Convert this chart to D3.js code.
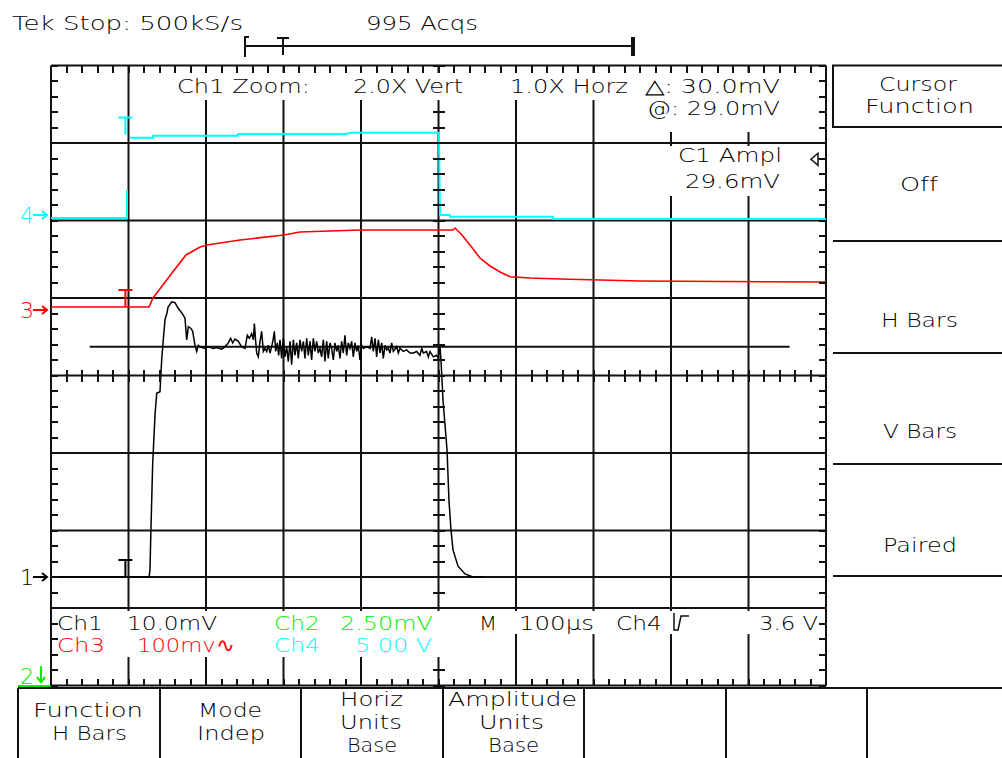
<!DOCTYPE html>
<html lang="en">
<head>
<meta charset="UTF-8">
<title>Tek scope capture</title>
<script src="https://cdnjs.cloudflare.com/ajax/libs/d3/7.8.5/d3.min.js"></script>
<style>
  body { margin: 0; background: #fff; }
  svg { display: block; font-family: "DejaVu Sans", sans-serif; }
  text { font-size: 20px; font-weight: 300; font-variant-ligatures: none; }
</style>
</head>
<body>
<div id="chart"></div>
<script>
// time base: 100 us/div over 10 divisions, 8 vertical divisions
const timeRange = [0, 1000];
const divRange = [-4, 4];

// channel settings: units per division and ground marker position (divisions)
const channelNames = ["1", "2", "3", "4"];
const channelScale = [10, 2.5, 100, 5];        // mV, mV, mV, V
const channelGround = [-2.6, -3.88, 0.845, 2.07];
const channelColor = ["#000000", "#00ee00", "#ff0000", "#00ffff"];

// Ch1 samples [time us, mV]
const ch1Samples = [
  [0, 0], [126.5, 0], [127.7, 0.9], [129.0, 6.3], [131.2, 14.6], [134.2, 20.9],
  [136.4, 23.7], [140.6, 23.9], [142.8, 28.0], [144.9, 30.6], [147.1, 33.2],
  [149.7, 34.1], [151.0, 34.8], [155.7, 35.5], [160.0, 35.4], [163.9, 34.7],
  [168.6, 34.1], [172.9, 33.4], [175.1, 30.6], [177.2, 32.3], [180.3, 32.1],
  [182.8, 31.7], [185.8, 29.9], [188.0, 29.1], [190.1, 29.9], [192.3, 29.7],
  [198.7, 29.5], [203.0, 29.7], [209.5, 29.5], [213.8, 29.6], [220.2, 29.4],
  [224.5, 29.7], [228.8, 30.2], [231.8, 30.8], [234.4, 30.2], [237.4, 30.7],
  [241.7, 30.4], [246.0, 29.7], [250.3, 29.5], [253.3, 31.2], [255.9, 30.8],
  [258.9, 31.4], [261.1, 30.6], [262.4, 32.7], [264.1, 30.4], [265.4, 28.9],
  [267.5, 28.4], [269.7, 30.4], [271.8, 31.7], [274.0, 29.1], [276.1, 29.5],
  [278.3, 29.1], [280.4, 29.9], [282.6, 28.9], [284.7, 29.7], [286.9, 30.8],
  [288.2, 31.7], [289.9, 29.1], [292.0, 30.2], [293.8, 28.6], [295.5, 30.6],
  [297.6, 28.2], [299.8, 30.8], [301.9, 28.4], [304.1, 29.7], [306.2, 27.8],
  [308.4, 30.4], [310.5, 27.4], [312.7, 30.6], [314.8, 28.6], [317.0, 30.2],
  [319.1, 28.2], [321.3, 30.6], [323.4, 29.1], [325.6, 30.4], [327.7, 28.2],
  [329.9, 30.8], [332.0, 28.6], [334.2, 30.4], [336.3, 28.0], [338.5, 30.8],
  [340.6, 29.1], [342.8, 30.4], [344.9, 28.9], [347.1, 29.5], [349.2, 28.4],
  [351.4, 30.6], [353.5, 27.8], [355.7, 30.4], [357.8, 28.2], [360.0, 30.2],
  [362.1, 29.5], [364.3, 28.0], [366.4, 30.2], [368.6, 29.1], [370.7, 29.9],
  [372.9, 28.2], [375.0, 30.4], [377.2, 28.9], [379.3, 31.2], [381.5, 28.6],
  [383.6, 30.2], [385.8, 29.5], [387.9, 30.4], [390.1, 28.4], [392.2, 30.2],
  [394.4, 29.1], [396.5, 29.9], [398.7, 28.0], [400.8, 29.9], [403.0, 29.5],
  [407.3, 29.7], [411.6, 29.5], [413.8, 31.0], [415.9, 29.1], [418.1, 30.8],
  [420.2, 28.4], [422.4, 30.6], [424.5, 28.9], [426.7, 30.2], [428.8, 28.2],
  [431.0, 29.9], [433.1, 29.3], [435.3, 29.5], [437.4, 28.9], [439.6, 30.2],
  [441.7, 29.1], [446.0, 29.7], [448.2, 28.9], [450.3, 29.5], [454.6, 29.1],
  [458.9, 29.3], [463.2, 28.9], [467.5, 28.9], [471.8, 29.1], [476.1, 28.6],
  [478.3, 29.5], [480.4, 28.9], [484.7, 29.1], [486.9, 28.4], [489.0, 29.1],
  [493.3, 28.4], [497.6, 28.6], [499.8, 28.2], [501.9, 29.9], [503.2, 28.0],
  [505.8, 22.8], [511.0, 16.4], [513.5, 9.9], [516.1, 6.1], [518.7, 3.5],
  [525.2, 1.4], [534.2, 0.4], [544.5, 0], [560.0, 0]
];

// Ch3 samples [time us, mV]
const ch3Samples = [
  [0, 3.9], [126.5, 3.9], [131.6, 15.5], [156.1, 47.7], [174.2, 71.0],
  [192.3, 81.3], [201.3, 83.9], [243.9, 90.3], [300.6, 96.8], [321.3, 100.6],
  [398.7, 103.2], [518.7, 103.2], [521.3, 105.8], [530.3, 96.8], [540.6, 83.9],
  [553.5, 67.1], [566.5, 56.8], [579.4, 49.0], [592.3, 43.0], [618.1, 41.3],
  [656.8, 40.0], [760.0, 37.4], [1000, 36.1]
];

// Ch4 samples [time us, V] (null = trace gap)
const ch4Samples = [
  [0, -0.19], [98.1, -0.19], [98.1, 1.61], [99.5, null], [101.9, 4.99],
  [131.6, 4.99], [131.6, 5.12], [241.3, 5.12], [241.3, 5.23], [379.4, 5.23],
  [388.0, 5.31], [500.6, 5.31], [501.9, 0], [514.8, 0], [514.8, -0.11],
  [647.7, -0.11], [647.7, -0.26], [1000, -0.26]
];

// trigger: Ch4 rising edge at 3.6 V
const triggerTime = 96;
const triggerLevel = 3.6;
const triggerMarkLevel = [0, null, 3.9, 5.2];

// H-bar cursors on Ch1 (mV) and their time extent
const cursorLevels = [29.7, 0];
const cursorSpans = [[50, 953], [0, 1000]];

const W = 1002, H = 758;
const ink = "#111";
const svg = d3.select("#chart").append("svg").attr("width", W).attr("height", H);

const x = d3.scaleLinear().domain(timeRange).range([51, 826]);
const y = d3.scaleLinear().domain(divRange).range([685.5, 65.5]);
const chY = (ch, v) => y(channelGround[ch] + v / channelScale[ch]);

// graticule: major lines
const majorT = d3.range(0, 1001, 100), majorD = d3.range(-4, 4.01, 1);
svg.append("path").attr("fill", "none").attr("stroke", ink).attr("stroke-width", 2)
  .attr("d", majorT.map(t => `M${x(t)},${y(4)}V${y(-4)}`).join("") +
             majorD.map(d => `M${x(0)},${y(d)}H${x(1000)}`).join(""));

// cursors
cursorLevels.forEach((v, i) => {
  svg.append("line").attr("stroke", ink).attr("stroke-width", 2)
    .attr("x1", x(cursorSpans[i][0])).attr("x2", x(cursorSpans[i][1]))
    .attr("y1", chY(0, v)).attr("y2", chY(0, v));
});

// white boxes behind the readouts
const boxes = [[150, 73, 490, 27], [640, 73, 178, 59], [660, 146, 158, 50],
               [57, 611, 388, 46], [445, 611, 373, 23]];
svg.append("g").selectAll("rect").data(boxes).join("rect")
  .attr("x", d => d[0]).attr("y", d => d[1]).attr("width", d => d[2]).attr("height", d => d[3])
  .attr("fill", "#fff");

// traces
function trace(ch, samples, width) {
  const line = d3.line().defined(d => d[1] !== null)
    .x(d => x(d[0])).y(d => chY(ch, d[1]));
  svg.append("path").datum(samples).attr("d", line)
    .attr("fill", "none").attr("stroke", channelColor[ch]).attr("stroke-width", width);
}
trace(3, ch4Samples, 2);
trace(2, ch3Samples, 1.6);
trace(0, ch1Samples, 1.5);

// trigger position markers on each trace
triggerMarkLevel.forEach((v, ch) => {
  if (v === null) return;
  const tx = x(triggerTime), my = chY(ch, v);
  svg.append("path").attr("d", `M${tx - 7},${my - 17}H${tx + 7}M${tx},${my - 17}V${my}`)
    .attr("stroke", channelColor[ch]).attr("stroke-width", 2).attr("fill", "none");
});

// trigger level marker on right edge
const ly = chY(3, triggerLevel);
svg.append("path").attr("d", `M818,${ly - 6}L811,${ly}L818,${ly + 6}ZM818,${ly}H826`)
  .attr("fill", "none").attr("stroke", ink).attr("stroke-width", 1.5);

// channel ground markers
channelNames.forEach((n, ch) => {
  const gy = y(channelGround[ch]);
  const c = channelColor[ch];
  svg.append("text").text(n).attr("x", 20).attr("y", gy + 8).attr("fill", c).style("font-size", "22px");
  if (ch === 1) {
    svg.append("path").attr("d", `M41,${gy - 10}V${gy + 6}M37,${gy + 1}L41,${gy + 6}L45,${gy + 1}`)
      .attr("stroke", c).attr("stroke-width", 2).attr("fill", "none");
    svg.append("line").attr("x1", 18).attr("x2", 51).attr("y1", 686).attr("y2", 686)
      .attr("stroke", c).attr("stroke-width", 2);
  } else {
    svg.append("path").attr("d", `M33,${gy}H47M42,${gy - 4}L47,${gy}L42,${gy + 4}`)
      .attr("stroke", c).attr("stroke-width", 2).attr("fill", "none");
  }
});

// record bar at top
const bar = svg.append("g").attr("stroke", ink).attr("fill", "none");
bar.append("path").attr("d", "M249,37H245V57M245,46H633").attr("stroke-width", 2);
bar.append("path").attr("d", "M277,38H289M283,38V55").attr("stroke-width", 2);
bar.append("path").attr("d", "M633,37V56").attr("stroke-width", 4);

// right menu
const menu = svg.append("g").attr("stroke", ink).attr("stroke-width", 2).attr("fill", "none");
menu.append("rect").attr("x", 833).attr("y", 65.5).attr("width", 175).attr("height", 61.5);
[241, 353, 464, 576].forEach(v => menu.append("line").attr("x1", 833).attr("x2", 1002).attr("y1", v).attr("y2", v));
// bottom menu
menu.append("line").attr("x1", 18).attr("x2", 1002).attr("y1", 688).attr("y2", 688);
[18, 160, 301, 443, 584, 726, 867].forEach(v => menu.append("line").attr("x1", v).attr("x2", v).attr("y1", 688).attr("y2", 758));

// rising edge symbol for the trigger readout
svg.append("path").attr("d", "M674,613V630H678L681,616H689").attr("stroke", ink)
  .attr("stroke-width", 1.5).attr("fill", "none");

// text: [string, left x, baseline y, width, colour]
const labels = [
  ["Tek Stop: 500kS/s", 12, 30, 231, 0], ["995 Acqs", 366, 30, 112, 0],
  ["Ch1 Zoom:", 177, 93, 133, 0], ["2.0X Vert", 353, 93, 110, 0],
  ["1.0X Horz", 510, 93, 118, 0], ["\u25B3: 30.0mV", 645, 93, 135, 0],
  ["@: 29.0mV", 647, 115, 133, 0], ["C1 Ampl", 678, 162, 104, 0],
  ["29.6mV", 685, 188, 95, 0],
  ["Cursor", 879, 91, 78, 0], ["Function", 865, 113, 109, 0], ["Off", 900, 191, 38, 0],
  ["H Bars", 881, 327, 77, 0], ["V Bars", 883, 438, 74, 0], ["Paired", 883, 552, 74, 0],
  ["Ch1", 57, 630, 46, 0], ["10.0mV", 127, 630, 90, 0],
  ["Ch2", 274, 630, 46, 1], ["2.50mV", 340, 630, 93, 1],
  ["Ch3", 57, 652, 48, 2], ["100mv\u223F", 137, 652, 98, 2],
  ["Ch4", 274, 652, 46, 3], ["5.00 V", 355, 652, 77, 3],
  ["M", 479, 630, 18, 0], ["100\u00B5s", 519, 630, 75, 0], ["Ch4", 616, 630, 46, 0],
  ["3.6 V", 759, 630, 59, 0],
  ["Function", 33, 717, 110, 0], ["H Bars", 52, 740, 75, 0],
  ["Mode", 198, 717, 64, 0], ["Indep", 197, 740, 68, 0],
  ["Horiz", 340, 706, 63, 0], ["Units", 340, 729, 62, 0], ["Base", 347, 752, 50, 0],
  ["Amplitude", 448, 706, 129, 0], ["Units", 479, 729, 65, 0], ["Base", 488, 752, 51, 0]
];
svg.append("g").selectAll("text").data(labels).join("text")
  .attr("x", d => d[1]).attr("y", d => d[2])
  .attr("textLength", d => d[3]).attr("lengthAdjust", "spacingAndGlyphs")
  .attr("fill", d => d[4] === 0 ? "#000" : channelColor[d[4]])
  .text(d => d[0]);

// minor ticks on the border and on the centre cross, drawn last (skipping readout boxes)
const minorT = d3.range(0, 1001, 20), minorD = d3.range(-4, 4.001, 0.2);
const segs = [];
minorT.forEach(t => {
  segs.push([x(t), y(4), x(t), y(4) + 7]);
  segs.push([x(t), y(-4), x(t), y(-4) - 7]);
  segs.push([x(t), y(0) - 6, x(t), y(0) + 6]);
});
minorD.forEach(d => {
  segs.push([x(0), y(d), x(0) + 7, y(d)]);
  segs.push([x(1000), y(d), x(1000) - 7, y(d)]);
  segs.push([x(500) - 6, y(d), x(500) + 6, y(d)]);
});
const inBox = s => boxes.some(b => {
  const cx = (s[0] + s[2]) / 2, cy = (s[1] + s[3]) / 2;
  return cx > b[0] && cx < b[0] + b[2] && cy > b[1] && cy < b[1] + b[3];
});
svg.append("g").selectAll("line").data(segs.filter(s => !inBox(s))).join("line")
  .attr("x1", d => d[0]).attr("y1", d => d[1]).attr("x2", d => d[2]).attr("y2", d => d[3])
  .attr("stroke", ink).attr("stroke-width", 2).attr("shape-rendering", "crispEdges");
</script>
</body>
</html>
